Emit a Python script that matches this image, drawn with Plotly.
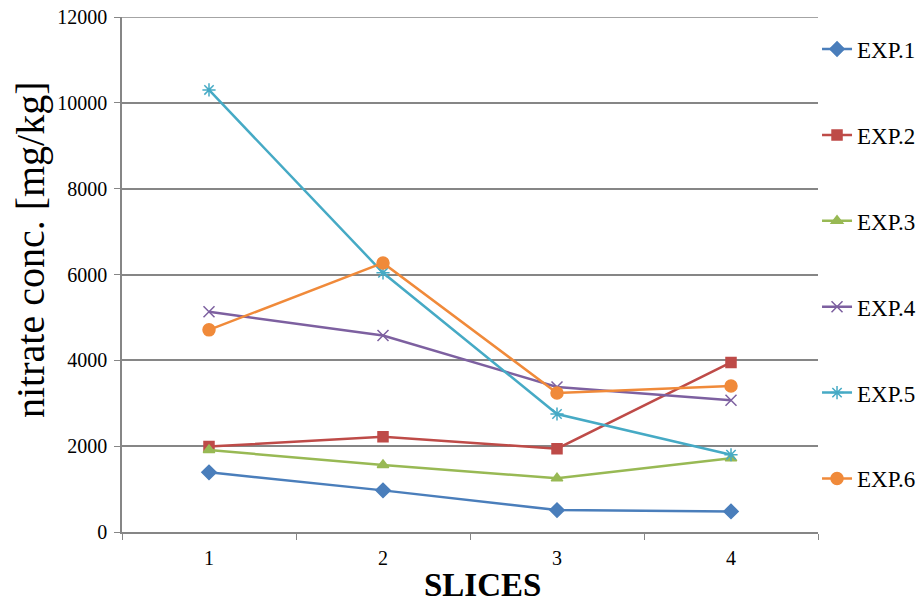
import plotly.graph_objects as go

slices = ["1", "2", "3", "4"]
exp1 = [1390, 970, 510, 480]
exp2 = [1990, 2220, 1940, 3950]
exp3 = [1910, 1560, 1250, 1720]
exp4 = [5130, 4580, 3380, 3070]
exp5 = [10300, 6040, 2750, 1800]
exp6 = [4710, 6270, 3240, 3400]
y_ticks = [0, 2000, 4000, 6000, 8000, 10000, 12000]

series = [
    ("EXP.1", exp1, "#4A7EBB", "diamond"),
    ("EXP.2", exp2, "#BE4B48", "square"),
    ("EXP.3", exp3, "#98B954", "triangle-up"),
    ("EXP.4", exp4, "#7D60A0", "x-thin-open"),
    ("EXP.5", exp5, "#46AAC5", "asterisk-open"),
    ("EXP.6", exp6, "#F08A3A", "circle"),
]

FONT = "Liberation Serif, Times New Roman, serif"

# body margin removed via post_script; plot area (page px): x 122-818, y 17-532
L, T = 122, 17
PW, PH = 696, 515

fig = go.Figure()
for i, (name, vals, color, sym) in enumerate(series):
    size = 10
    if sym == "diamond":
        size = 11
    if sym in ("x-thin-open", "asterisk-open"):
        size = 11
    if sym == "circle":
        size = 12
    fig.add_trace(go.Scatter(
        x=slices, y=vals, name=name, mode="lines+markers",
        legendgroup=name,
        line=dict(color=color, width=2.5),
        marker=dict(symbol=sym, size=size, color=color,
                    line=dict(color=color, width=1.5)),
    ))

fig.update_layout(
    width=923, height=606,
    margin=dict(l=L, r=923 - L - PW, t=T, b=606 - T - PH, autoexpand=False),
    paper_bgcolor="white", plot_bgcolor="white",
    font=dict(family=FONT, color="black"),
    showlegend=True,
    legend=dict(x=0.9986, xanchor="left", y=0.9795, yanchor="top",
                font=dict(size=23, family=FONT), tracegroupgap=53,
                itemwidth=30, bgcolor="rgba(0,0,0,0)"),
    xaxis=dict(
        type="category", showgrid=False, showline=True, linecolor="#868686",
        linewidth=1.5, ticks="outside", ticklen=6, tickcolor="#868686",
        tickson="boundaries", tickfont=dict(size=20, family=FONT),
        ticklabelstandoff=7,
        range=[-0.5, 3.5], automargin=False,
    ),
    yaxis=dict(
        range=[0, 12000], tickvals=y_ticks,
        tickformat="d", showgrid=True, gridcolor="#868686",
        gridwidth=1.5, showline=True, linecolor="#868686", linewidth=1.5,
        ticks="outside", ticklen=6, tickcolor="#868686", zeroline=False,
        tickfont=dict(size=20, family=FONT), automargin=False,
        ticklabelstandoff=3, ticklabeloverflow="allow",
    ),
    shapes=[
        dict(type="line", xref="paper", yref="y", x0=0, x1=1,
             y0=y_ticks[-1], y1=y_ticks[-1],
             line=dict(color="#868686", width=1.5), layer="below"),
    ],
    annotations=[
        dict(text="nitrate conc. [mg/kg]", textangle=-90, showarrow=False,
             xref="paper", yref="paper",
             x=(31 - L) / PW, y=(T + PH - 250) / PH,
             xanchor="center", yanchor="middle",
             font=dict(size=40, family=FONT, color="black")),
        dict(text="<b>SLICES</b>", showarrow=False,
             xref="paper", yref="paper",
             x=(482 - L) / PW, y=(T + PH - 585) / PH,
             xanchor="center", yanchor="middle",
             font=dict(size=33, family=FONT, color="black")),
    ],
)

fig.write_html("out.html",
               config={"displayModeBar": False},
               post_script="document.body.style.margin='0';document.body.style.padding='0';")
